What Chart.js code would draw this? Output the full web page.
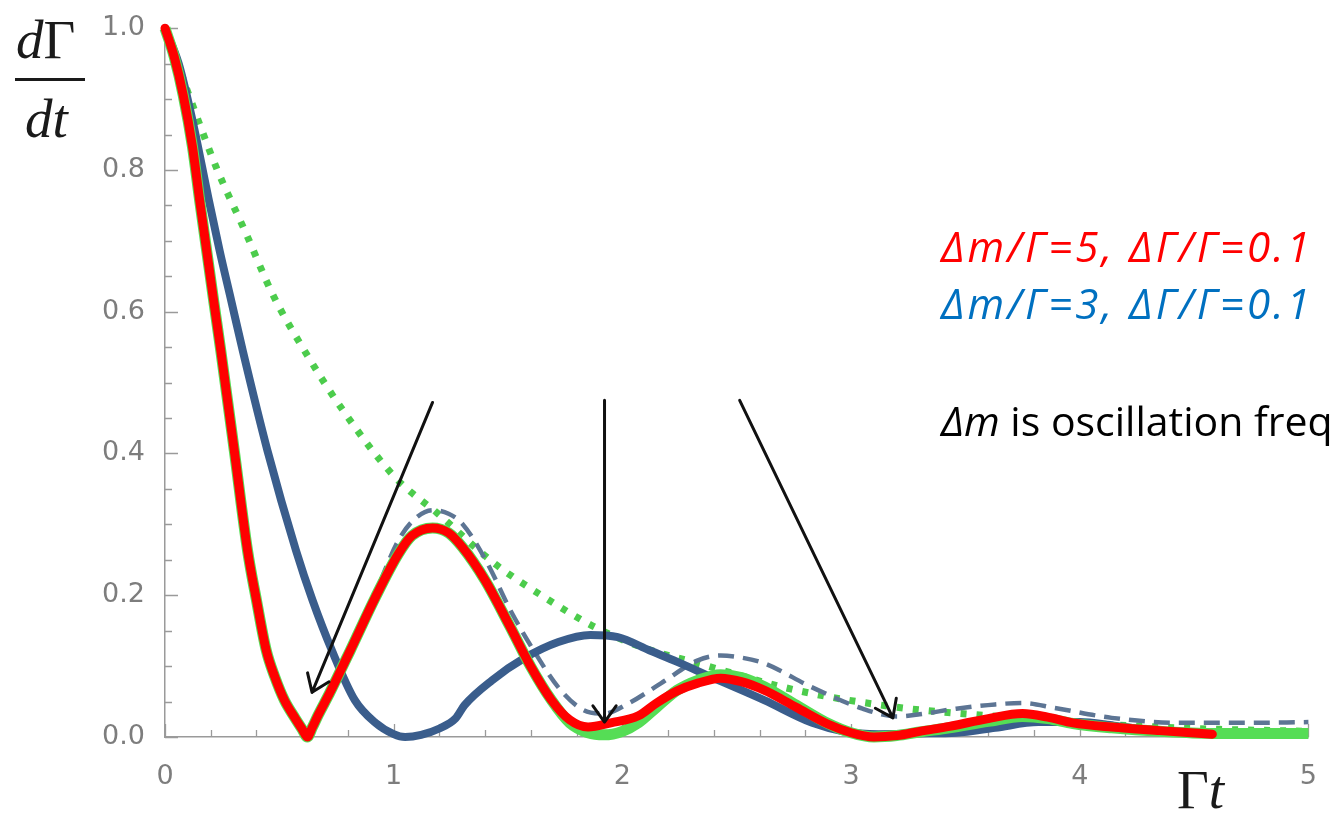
<!DOCTYPE html>
<html>
<head>
<meta charset="utf-8">
<script src="https://cdn.jsdelivr.net/npm/chart.js@4.4.1/dist/chart.umd.min.js"></script>
<style>
html,body{margin:0;padding:0;background:#fff;overflow:hidden;width:1333px;height:815px}
#wrap{position:relative;width:1333px;height:815px;overflow:hidden}
#c{position:absolute;left:0;top:0}
.t{position:absolute;white-space:nowrap;line-height:1;margin:0}
.serif{font-family:"Liberation Serif","DejaVu Serif",serif;font-size:55px;color:#1a1a1a}
.note{font-family:"Open Sans","Noto Sans",sans-serif;font-size:42px}
</style>
</head>
<body>
<div id="wrap">
<canvas id="c" width="1333" height="815"></canvas>
<div class="t serif" id="yt1" style="left:16px;top:12px"><i>d</i>Γ</div>
<div style="position:absolute;left:15px;top:78px;width:70px;height:3px;background:#1a1a1a"></div>
<div class="t serif" id="yt2" style="left:25px;top:91px"><i>dt</i></div>
<div class="t serif" id="xt" style="left:1177px;top:762px">Γ<i>t</i></div>
<div class="t note" id="n1" style="left:941px;top:225px;color:#ff0000;font-style:italic">Δm/Γ=5, ΔΓ/Γ=0.1</div>
<div class="t note" id="n2" style="left:941px;top:282px;color:#0070c0;font-style:italic">Δm/Γ=3, ΔΓ/Γ=0.1</div>
<div class="t note" id="n3" style="left:941px;top:400px;color:#000;font-size:41px"><i>Δm</i> is oscillation frequency</div>
</div>
<script>
// ---- data ----
const xTickValues = [0, 1, 2, 3, 4, 5];
const xTickLabels = ['0', '1', '2', '3', '4', '5'];
const yTickValues = [0.0, 0.2, 0.4, 0.6, 0.8, 1.0];
const yTickLabels = ['0.0', '0.2', '0.4', '0.6', '0.8', '1.0'];
const xMinorStep = 0.2;
const yMinorStep = 0.05;

// red: Δm/Γ=5
const tRed = [0, 0.04, 0.08, 0.12, 0.152, 0.213, 0.244, 0.303, 0.361, 0.40, 0.443, 0.48, 0.522, 0.57, 0.60, 0.622, 0.645, 0.67, 0.72, 0.81, 0.92, 1.02, 1.08, 1.17, 1.24, 1.30, 1.40, 1.51, 1.60, 1.69, 1.77, 1.85, 1.95, 2.07, 2.15, 2.24, 2.33, 2.43, 2.52, 2.62, 2.76, 2.90, 3.00, 3.10, 3.20, 3.30, 3.43, 3.60, 3.75, 3.86, 3.97, 4.14, 4.35, 4.58];
const yRed = [1.0, 0.96, 0.905, 0.833, 0.756, 0.615, 0.545, 0.404, 0.263, 0.193, 0.122, 0.085, 0.052, 0.026, 0.011, 0.0, 0.014, 0.031, 0.062, 0.122, 0.197, 0.258, 0.284, 0.295, 0.288, 0.268, 0.221, 0.155, 0.099, 0.052, 0.024, 0.014, 0.020, 0.030, 0.048, 0.065, 0.076, 0.083, 0.078, 0.066, 0.042, 0.018, 0.006, 0.0, 0.002, 0.008, 0.015, 0.026, 0.033, 0.028, 0.020, 0.014, 0.009, 0.004];

// green solid underneath the red curve
const tGreen = [0, 0.04, 0.08, 0.12, 0.152, 0.213, 0.244, 0.303, 0.361, 0.40, 0.443, 0.48, 0.522, 0.57, 0.60, 0.622, 0.645, 0.67, 0.72, 0.81, 0.92, 1.02, 1.08, 1.17, 1.24, 1.30, 1.40, 1.51, 1.60, 1.69, 1.77, 1.85, 1.92, 2.00, 2.07, 2.15, 2.24, 2.33, 2.43, 2.52, 2.62, 2.76, 2.90, 3.00, 3.10, 3.20, 3.30, 3.43, 3.60, 3.75, 3.86, 3.97, 4.14, 4.35, 4.58, 4.80, 5.0];
const yGreen = [1.0, 0.96, 0.905, 0.833, 0.756, 0.615, 0.545, 0.404, 0.263, 0.193, 0.122, 0.085, 0.052, 0.026, 0.011, 0.0, 0.014, 0.031, 0.062, 0.122, 0.197, 0.258, 0.284, 0.295, 0.288, 0.268, 0.221, 0.155, 0.099, 0.052, 0.020, 0.006, 0.003, 0.008, 0.020, 0.042, 0.066, 0.080, 0.088, 0.084, 0.071, 0.045, 0.019, 0.006, 0.0, 0.002, 0.007, 0.013, 0.022, 0.029, 0.026, 0.019, 0.013, 0.008, 0.005, 0.005, 0.005];

// dark blue solid: Δm/Γ=3
const tBlue = [0, 0.06, 0.12, 0.19, 0.239, 0.29, 0.34, 0.448, 0.573, 0.645, 0.73, 0.83, 0.92, 1.0, 1.05, 1.12, 1.2, 1.27, 1.31, 1.43, 1.57, 1.72, 1.86, 1.98, 2.12, 2.24, 2.40, 2.62, 2.83, 2.98, 3.12, 3.30, 3.46, 3.63, 3.82, 4.0, 4.15, 4.28, 4.51];
const yBlue = [1.0, 0.95, 0.87, 0.76, 0.686, 0.615, 0.545, 0.404, 0.263, 0.193, 0.122, 0.052, 0.020, 0.004, 0.0, 0.003, 0.012, 0.026, 0.045, 0.080, 0.111, 0.134, 0.144, 0.141, 0.122, 0.106, 0.083, 0.052, 0.020, 0.007, 0.004, 0.005, 0.006, 0.013, 0.021, 0.021, 0.016, 0.011, 0.005];

// grey-blue dashed
const tDash = [0, 0.04, 0.08, 0.12, 0.152, 0.213, 0.244, 0.303, 0.361, 0.40, 0.443, 0.48, 0.522, 0.57, 0.60, 0.622, 0.645, 0.67, 0.72, 0.81, 0.92, 1.02, 1.09, 1.17, 1.24, 1.30, 1.41, 1.51, 1.62, 1.72, 1.83, 1.92, 2.03, 2.17, 2.33, 2.43, 2.52, 2.62, 2.83, 3.05, 3.20, 3.30, 3.46, 3.63, 3.75, 3.89, 4.14, 4.43, 4.72, 5.0];
const yDash = [1.0, 0.96, 0.905, 0.833, 0.756, 0.615, 0.545, 0.404, 0.263, 0.193, 0.122, 0.085, 0.052, 0.026, 0.011, 0.0, 0.014, 0.031, 0.062, 0.122, 0.203, 0.277, 0.307, 0.320, 0.315, 0.301, 0.245, 0.179, 0.118, 0.070, 0.038, 0.033, 0.048, 0.076, 0.108, 0.115, 0.112, 0.104, 0.070, 0.040, 0.029, 0.032, 0.040, 0.046, 0.048, 0.041, 0.027, 0.020, 0.020, 0.021];

// green dotted envelope
const tDot = [0, 0.094, 0.225, 0.355, 0.47, 0.61, 0.78, 1.01, 1.19, 1.44, 1.66, 1.88, 2.10, 2.33, 2.76, 3.20, 3.60, 4.0, 4.5, 5.0];
const yDot = [1.0, 0.915, 0.803, 0.71, 0.625, 0.545, 0.46, 0.365, 0.316, 0.245, 0.197, 0.155, 0.125, 0.104, 0.066, 0.042, 0.030, 0.020, 0.012, 0.008];

// arrows (data coordinates)
const arrowFromX = [1.17, 1.922, 2.513];
const arrowFromY = [0.472, 0.475, 0.475];
const arrowToX = [0.643, 1.922, 3.183];
const arrowToY = [0.063, 0.021, 0.027];

// ---- chart ----
const pts = (ts, ys) => ts.map((t, i) => ({x: t, y: ys[i]}));

const axisTicks = {
  id: 'axisTicks',
  beforeDatasetsDraw(chart) {
    const {ctx, chartArea: a, scales: {x, y}} = chart;
    ctx.save();
    ctx.strokeStyle = '#9a9a9a';
    ctx.lineWidth = 1.3;
    ctx.beginPath();
    const nx = Math.round((x.max - x.min) / xMinorStep);
    for (let i = 0; i <= nx; i++) {
      const v = x.min + i * xMinorStep;
      const px = Math.round(x.getPixelForValue(v)) + 0.5;
      const L = (i % 5 === 0) ? 13 : 7;
      ctx.moveTo(px, a.bottom);
      ctx.lineTo(px, a.bottom - L);
    }
    const ny = Math.round((y.max - y.min) / yMinorStep);
    for (let i = 0; i <= ny; i++) {
      const v = y.min + i * yMinorStep;
      const py = Math.round(y.getPixelForValue(v)) + 0.5;
      const L = (i % 4 === 0) ? 13 : 7;
      ctx.moveTo(a.left, py);
      ctx.lineTo(a.left + L, py);
    }
    ctx.stroke();
    ctx.restore();
  }
};

const arrows = {
  id: 'arrows',
  afterDatasetsDraw(chart) {
    const {ctx, scales: {x, y}} = chart;
    ctx.save();
    ctx.strokeStyle = '#111';
    ctx.lineWidth = 3;
    ctx.lineCap = 'round';
    ctx.lineJoin = 'round';
    for (let i = 0; i < arrowFromX.length; i++) {
      const x0 = x.getPixelForValue(arrowFromX[i]), y0 = y.getPixelForValue(arrowFromY[i]);
      const x1 = x.getPixelForValue(arrowToX[i]), y1 = y.getPixelForValue(arrowToY[i]);
      const ang = Math.atan2(y1 - y0, x1 - x0);
      const L = 20, h = 0.62;
      ctx.beginPath();
      ctx.moveTo(x0, y0);
      ctx.lineTo(x1, y1);
      ctx.moveTo(x1 - L * Math.cos(ang - h), y1 - L * Math.sin(ang - h));
      ctx.lineTo(x1, y1);
      ctx.lineTo(x1 - L * Math.cos(ang + h), y1 - L * Math.sin(ang + h));
      ctx.stroke();
    }
    ctx.restore();
  }
};

const common = {pointRadius: 0, pointHoverRadius: 0, fill: false, cubicInterpolationMode: 'monotone', clip: false};

new Chart(document.getElementById('c'), {
  type: 'line',
  data: {
    datasets: [
      Object.assign({label: 'Δm/Γ=5', data: pts(tRed, yRed), borderColor: '#ff0000', borderWidth: 9, borderCapStyle: 'round', borderJoinStyle: 'round', order: 0}, common),
      Object.assign({label: 'Δm/Γ=5 (exact)', data: pts(tGreen, yGreen), borderColor: '#55dd55', borderWidth: 11, borderCapStyle: 'butt', borderJoinStyle: 'round', order: 1}, common),
      Object.assign({label: 'Δm/Γ=3', data: pts(tBlue, yBlue), borderColor: '#3a5d8c', borderWidth: 8, borderCapStyle: 'round', borderJoinStyle: 'round', order: 2}, common),
      Object.assign({label: 'dashed', data: pts(tDash, yDash), borderColor: '#5d7594', borderWidth: 4.5, borderDash: [16, 9], borderCapStyle: 'butt', order: 3}, common),
      Object.assign({label: 'envelope', data: pts(tDot, yDot), borderColor: '#4ccc4c', borderWidth: 7, borderDash: [6, 10], borderCapStyle: 'butt', order: 4}, common)
    ]
  },
  options: {
    responsive: false,
    animation: false,
    events: [],
    layout: {padding: {top: 27, right: 18, left: 0, bottom: 0}},
    plugins: {legend: {display: false}, tooltip: {enabled: false}},
    scales: {
      x: {
        type: 'linear', min: 0, max: 5,
        afterBuildTicks: s => { s.ticks = xTickValues.map(v => ({value: v})); },
        afterFit: s => { s.height = 78; },
        grid: {display: false},
        border: {display: true, color: '#9a9a9a', width: 1.5},
        ticks: {color: '#7d7d7d', padding: 16, font: {family: 'DejaVu Sans', size: 27}, maxRotation: 0,
                callback: (v, i) => xTickLabels[i]}
      },
      y: {
        type: 'linear', min: 0, max: 1,
        afterBuildTicks: s => { s.ticks = yTickValues.map(v => ({value: v})); },
        afterFit: s => { s.width = 165; },
        grid: {display: false},
        border: {display: true, color: '#9a9a9a', width: 1.5},
        ticks: {color: '#7d7d7d', padding: 12, font: {family: 'DejaVu Sans', size: 27},
                callback: (v, i) => yTickLabels[i]}
      }
    }
  },
  plugins: [axisTicks, arrows]
});

// fit the two parameter lines to the reference width
['n1', 'n2'].forEach(id => {
  const el = document.getElementById(id);
  const w = el.getBoundingClientRect().width;
  const n = el.textContent.length;
  el.style.letterSpacing = ((372 - w) / n).toFixed(2) + 'px';
});
</script>
</body>
</html>
